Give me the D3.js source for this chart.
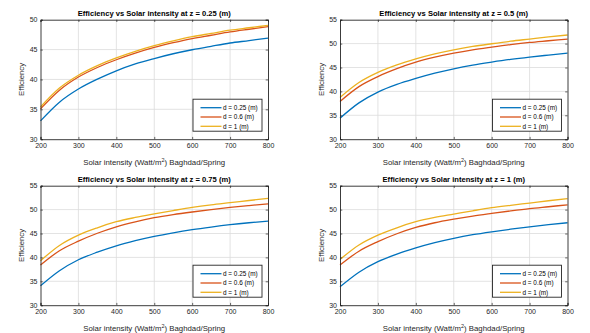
<!DOCTYPE html>
<html>
<head>
<meta charset="utf-8">
<script src="https://cdn.jsdelivr.net/npm/d3@7"></script>
<style>
  html, body { margin: 0; padding: 0; background: #fff; }
  svg { display: block; font-family: "Liberation Sans", Arial, Helvetica, sans-serif; }
</style>
</head>
<body>
<svg id="fig" width="590" height="333"></svg>
<script>
// Solar intensity samples (Watt/m^2)
const intensity = [200, 250, 300, 350, 400, 450, 500, 550, 600, 650, 700, 750, 800];
const seriesLabels = ["d = 0.25 (m)", "d = 0.6 (m)", "d = 1 (m)"];
const panelTitles = [
  "Efficiency vs Solar intensity at z = 0.25 (m)",
  "Efficiency vs Solar intensity at z = 0.5 (m)",
  "Efficiency vs Solar intensity at z = 0.75 (m)",
  "Efficiency vs Solar intensity at z = 1 (m)"
];
const xTicks = [200, 300, 400, 500, 600, 700, 800];
const yTicksA = [30, 35, 40, 45, 50];
const yTicksB = [30, 35, 40, 45, 50, 55];

// z = 0.25 m
const z025_d025 = [33.07, 36.2, 38.4, 40.05, 41.45, 42.6, 43.5, 44.3, 44.97, 45.55, 46.1, 46.5, 46.93];
const z025_d06  = [35.08, 38.2, 40.4, 42.0, 43.3, 44.4, 45.35, 46.15, 46.85, 47.4, 47.95, 48.4, 48.83];
const z025_d1   = [35.4, 38.55, 40.7, 42.3, 43.6, 44.7, 45.65, 46.45, 47.15, 47.7, 48.25, 48.65, 49.05];
// z = 0.5 m
const z05_d025 = [34.4, 37.6, 39.85, 41.45, 42.7, 43.8, 44.73, 45.5, 46.13, 46.7, 47.18, 47.6, 48.0];
const z05_d06  = [37.9, 41.0, 43.1, 44.75, 46.1, 47.15, 48.0, 48.7, 49.27, 49.8, 50.25, 50.6, 50.95];
const z05_d1   = [38.73, 41.85, 43.97, 45.55, 46.8, 47.85, 48.7, 49.4, 49.97, 50.5, 50.95, 51.4, 51.8];
// z = 0.75 m
const z075_d025 = [34.05, 37.2, 39.5, 41.1, 42.43, 43.5, 44.4, 45.15, 45.8, 46.35, 46.84, 47.25, 47.6];
const z075_d06  = [38.4, 41.4, 43.4, 45.05, 46.4, 47.45, 48.3, 48.95, 49.5, 50.0, 50.46, 50.85, 51.2];
const z075_d1   = [39.3, 42.5, 44.66, 46.2, 47.46, 48.35, 49.1, 49.8, 50.46, 51.0, 51.45, 51.9, 52.35];
// z = 1 m
const z1_d025 = [33.84, 36.9, 39.1, 40.7, 42.0, 43.1, 44.0, 44.75, 45.36, 45.9, 46.4, 46.85, 47.25];
const z1_d06  = [38.4, 41.3, 43.3, 44.95, 46.27, 47.25, 48.0, 48.65, 49.2, 49.72, 50.2, 50.6, 51.0];
const z1_d1   = [39.57, 42.6, 44.66, 46.2, 47.46, 48.35, 49.05, 49.75, 50.4, 50.9, 51.37, 51.85, 52.3];

const panelSeries = [
  [z025_d025, z025_d06, z025_d1],
  [z05_d025, z05_d06, z05_d1],
  [z075_d025, z075_d06, z075_d1],
  [z1_d025, z1_d06, z1_d1]
];
const panelYTicks = [yTicksA, yTicksB, yTicksB, yTicksB];

const colors = ["#0072BD", "#D95319", "#EDB120"];
const axisColor = "#262626";
const gridColor = "#dcdcdc";

const svg = d3.select("#fig");
const plotW = 227.5, plotH = 119.5;
const origins = [[40.5, 19.7], [340, 19.7], [40.5, 185.7], [340, 185.7]];

panelSeries.forEach((series, p) => {
  const [ox, oy] = origins[p];
  const yt = panelYTicks[p];
  const x = d3.scaleLinear().domain([200, 800]).range([0, plotW]);
  const y = d3.scaleLinear().domain([yt[0], yt[yt.length - 1]]).range([plotH, 0]);
  const g = svg.append("g").attr("transform", `translate(${ox},${oy})`);

  g.append("rect").attr("width", plotW).attr("height", plotH).attr("fill", "#fff");

  // grid
  g.append("g").selectAll("line.gx").data(xTicks.slice(1, -1)).join("line")
    .attr("x1", d => x(d)).attr("x2", d => x(d)).attr("y1", 0).attr("y2", plotH)
    .attr("stroke", gridColor).attr("stroke-width", 0.8);
  g.append("g").selectAll("line.gy").data(yt.slice(1, -1)).join("line")
    .attr("y1", d => y(d)).attr("y2", d => y(d)).attr("x1", 0).attr("x2", plotW)
    .attr("stroke", gridColor).attr("stroke-width", 0.8);

  // curves
  const line = d3.line().x((d, i) => x(intensity[i])).y(d => y(d)).curve(d3.curveMonotoneX);
  series.forEach((vals, k) => {
    g.append("path").datum(vals).attr("d", line)
      .attr("fill", "none").attr("stroke", colors[k]).attr("stroke-width", 1.3);
  });

  // axes (ticks pointing inward, labels outside)
  const xAxis = d3.axisBottom(x).tickValues(xTicks).tickSize(-2.3).tickPadding(4).tickFormat(d3.format("d"));
  const yAxis = d3.axisLeft(y).tickValues(yt).tickSize(-2.3).tickPadding(3).tickFormat(d3.format("d"));
  const xa = g.append("g").attr("transform", `translate(0,${plotH})`).call(xAxis);
  const ya = g.append("g").call(yAxis);
  const xt = g.append("g").call(d3.axisTop(x).tickValues(xTicks).tickSize(-2.3).tickFormat(""));
  const yr = g.append("g").attr("transform", `translate(${plotW},0)`)
    .call(d3.axisRight(y).tickValues(yt).tickSize(-2.3).tickFormat(""));
  [xa, ya, xt, yr].forEach(a => {
    a.select(".domain").attr("stroke", axisColor).attr("stroke-width", 0.9);
    a.selectAll(".tick line").attr("stroke", axisColor).attr("stroke-width", 0.7);
    a.selectAll(".tick text").attr("fill", axisColor).style("font-size", "7px")
      .style("font-family", "'Liberation Sans', Arial, sans-serif");
  });

  // title
  g.append("text").attr("x", plotW / 2).attr("y", -4).attr("text-anchor", "middle")
    .style("font-size", "7.6px").style("font-weight", "bold").attr("fill", "#000")
    .text(panelTitles[p]);

  // x label
  const xl = g.append("text").attr("x", plotW / 2).attr("y", plotH + 25.5).attr("text-anchor", "middle")
    .style("font-size", "7.8px").attr("fill", axisColor);
  xl.append("tspan").text("Solar intensity (Watt/m");
  xl.append("tspan").attr("dy", -3).style("font-size", "5.5px").text("2");
  xl.append("tspan").attr("dy", 3).text(") Baghdad/Spring");

  // y label
  g.append("text").attr("transform", `translate(-16.5,${plotH / 2}) rotate(-90)`)
    .attr("text-anchor", "middle").style("font-size", "7.8px").attr("fill", axisColor)
    .text("Efficiency");

  // legend
  const lg = g.append("g").attr("transform", `translate(${plotW - 75},${plotH - 40})`);
  lg.append("rect").attr("width", 69).attr("height", 32).attr("fill", "#fff")
    .attr("stroke", axisColor).attr("stroke-width", 0.9);
  seriesLabels.forEach((lab, k) => {
    const ry = 8.5 + k * 9.3;
    lg.append("line").attr("x1", 7.5).attr("x2", 28.5).attr("y1", ry).attr("y2", ry)
      .attr("stroke", colors[k]).attr("stroke-width", 1.3);
    lg.append("text").attr("x", 30).attr("y", ry + 2.3).style("font-size", "6.4px")
      .attr("fill", "#000").text(lab);
  });
});
</script>
</body>
</html>
